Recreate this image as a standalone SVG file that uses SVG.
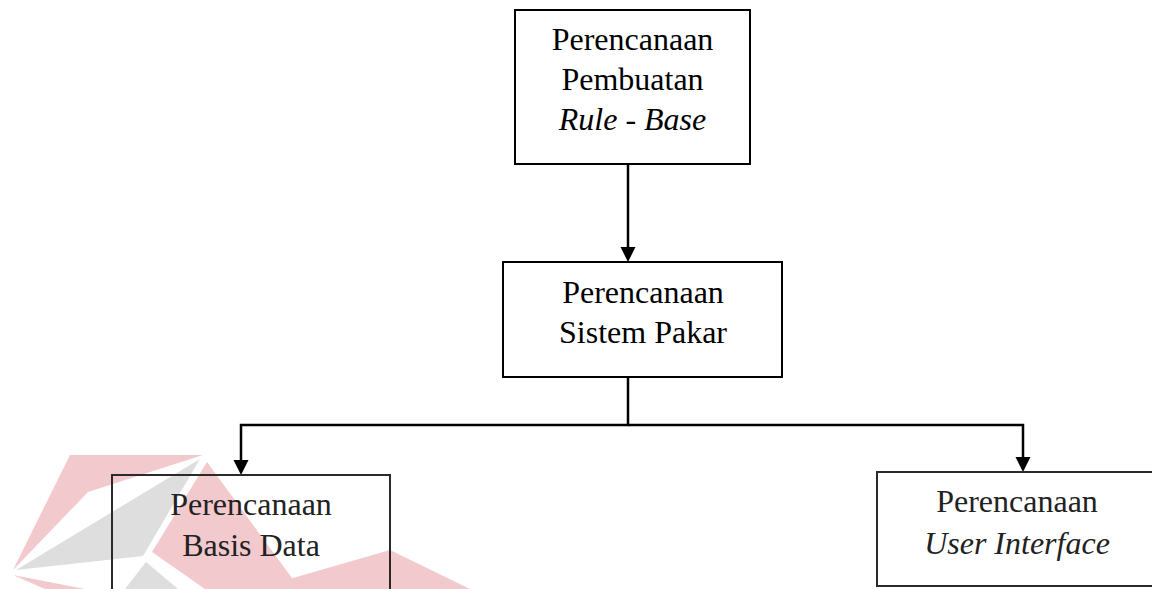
<svg xmlns="http://www.w3.org/2000/svg" width="1152" height="589" viewBox="0 0 1152 589">
  <style>
    .box { fill: none; stroke: #000; stroke-width: 2; }
    .box2 { fill: none; stroke: #2a2a2a; stroke-width: 2; }
    text { font-family: 'Liberation Serif', 'Times New Roman', Times, serif; font-size: 32px; text-anchor: middle; }
    .lbl { fill: #000; }
    .lbl2 { fill: #222; }
    .it { font-style: italic; }
    .conn { fill: none; stroke: #000; stroke-width: 2.5; }
    .head { fill: #000; }
    .wm-r { fill: #f2c9cd; }
    .wm-g { fill: #dedede; }
  </style>
  <rect width="1152" height="589" fill="#fff"/>

  <g id="watermark">
    <polygon class="wm-r" points="70,455 203,455 88,492 13,570"/>
    <polygon class="wm-g" points="200,459 16,570 143,556"/>
    <polygon class="wm-g" points="146,562 178,589 125,589"/>
    <polygon class="wm-r" points="13,575 85,589 45,589"/>
    <polygon class="wm-r" points="207,462 300,589 205,589 152,552"/>
    <polygon class="wm-r" points="390,550 470,589 255,589"/>
  </g>

  <g id="connectors">
    <line class="conn" x1="628" y1="164" x2="628" y2="250"/>
    <polygon class="head" points="620.5,247 635.5,247 628,262"/>
    <polyline class="conn" points="628,377 628,425 241,425 241,462"/>
    <polygon class="head" points="233.5,460 248.5,460 241,475"/>
    <polyline class="conn" points="628,425 1023,425 1023,459"/>
    <polygon class="head" points="1015.5,457 1030.5,457 1023,472"/>
  </g>

  <g id="node-rule-base">
    <rect class="box" x="515" y="10" width="235" height="154"/>
    <text class="lbl" x="632.5" y="50" font-family="Liberation Serif">Perencanaan</text>
    <text class="lbl" x="632.5" y="90" font-family="Liberation Serif">Pembuatan</text>
    <text class="lbl it" x="632.5" y="130" font-family="Liberation Serif">Rule - Base</text>
  </g>

  <g id="node-sistem-pakar">
    <rect class="box" x="503" y="262" width="279" height="115"/>
    <text class="lbl" x="643" y="303" font-family="Liberation Serif">Perencanaan</text>
    <text class="lbl" x="643" y="343" font-family="Liberation Serif">Sistem Pakar</text>
  </g>

  <g id="node-basis-data">
    <rect class="box2" x="112" y="475" width="278" height="130"/>
    <text class="lbl2" x="251" y="515" font-family="Liberation Serif">Perencanaan</text>
    <text class="lbl2" x="251" y="556" font-family="Liberation Serif">Basis Data</text>
  </g>

  <g id="node-user-interface">
    <rect class="box2" x="877" y="472" width="290" height="114"/>
    <text class="lbl2" x="1017" y="512" font-family="Liberation Serif">Perencanaan</text>
    <text class="lbl2 it" x="1017" y="554" font-family="Liberation Serif">User Interface</text>
  </g>
</svg>
